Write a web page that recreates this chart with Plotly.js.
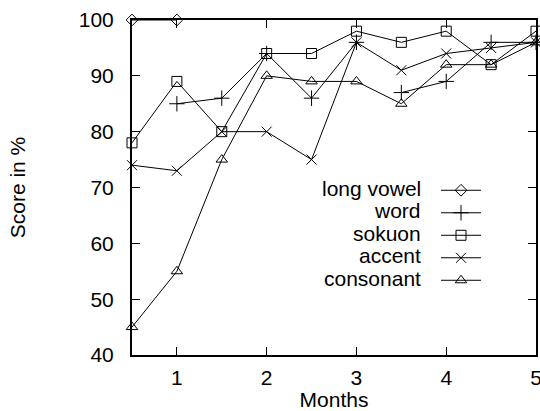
<!DOCTYPE html>
<html>
<head>
<meta charset="utf-8">
<script src="https://cdn.plot.ly/plotly-3.0.1.min.js"></script>
<style>html,body{margin:0;padding:0;background:#fff;}#chart{width:540px;height:411px;}</style>
</head>
<body>
<div id="chart"></div>
<script>
// ---- data ----
var seriesNames = ["long vowel", "word", "sokuon", "accent", "consonant"];
var months = [0.5, 1, 1.5, 2, 2.5, 3, 3.5, 4, 4.5, 5];
var longVowelMonths = [0.5, 1];
var longVowel = [100, 100];
// the word curve has a break between month 3 and 3.5 (null = gap)
var wordMonths = [1, 1.5, 2, 2.5, 3, null, 3.5, 4, 4.5, 5];
var word = [85, 86, 94, 86, 96, null, 87, 89, 96, 96];
var sokuon = [78, 89, 80, 94, 94, 98, 96, 98, 92, 98];
var accent = [74, 73, 80, 80, 75, 96, 91, 94, 95, 96];
var consonant = [45, 55, 75, 90, 89, 89, 85, 92, 92, 96];
var xTicks = [1, 2, 3, 4, 5];
var yTicks = [40, 50, 60, 70, 80, 90, 100];

var FONT = "Liberation Sans, Arial, Helvetica, sans-serif";
function tr(name, x, y, symbol, size) {
  return {
    type: "scatter", mode: "lines+markers", name: name, x: x, y: y,
    legendgroup: name,
    line: {color: "#000", width: 1},
    marker: {symbol: symbol, size: size, color: "#000", line: {color: "#000", width: 1}},
    cliponaxis: false
  };
}
var data = [
  tr(seriesNames[0], longVowelMonths, longVowel, "diamond-open", 9),
  tr(seriesNames[1], wordMonths, word, "cross-thin-open", 11),
  tr(seriesNames[2], months, sokuon, "square-open", 10),
  tr(seriesNames[3], months, accent, "x-thin-open", 10),
  tr(seriesNames[4], months, consonant, "triangle-up-open", 10)
];

// legend labels are drawn as annotations so they sit left of the symbols
var rowY = [0.497, 0.430, 0.363, 0.296, 0.229];
var annotations = seriesNames.map(function (n, i) {
  return {xref: "paper", yref: "paper", x: 0.7196, y: rowY[i], xanchor: "right", yanchor: "middle",
    text: n, showarrow: false, font: {family: FONT, size: 21, color: "#000"}};
});

var axisCommon = {
  showgrid: false, zeroline: false, showline: true, linecolor: "#000", linewidth: 2,
  mirror: "allticks", ticks: "inside", ticklen: 8, tickwidth: 1, tickcolor: "#000",
  tickfont: {family: FONT, size: 21, color: "#000"}, automargin: false
};
var layout = {
  width: 540, height: 411,
  margin: {l: 132, r: 4, t: 19.5, b: 56, pad: 0, autoexpand: false},
  paper_bgcolor: "#fff", plot_bgcolor: "#fff",
  font: {family: FONT, size: 21, color: "#000"},
  xaxis: Object.assign({}, axisCommon, {
    range: [0.5, 5], tickvals: xTicks, ticktext: xTicks.map(String),
    ticklabelstandoff: 3, ticklabeloverflow: "allow",
    title: {text: "Months", font: {family: FONT, size: 21, color: "#000"}, standoff: 0}
  }),
  yaxis: Object.assign({}, axisCommon, {
    range: [40, 100], tickvals: yTicks, ticktext: yTicks.map(String),
    ticklabelstandoff: 12,
    title: {text: "Score in %", font: {family: FONT, size: 21, color: "#000"}, standoff: 47}
  }),
  showlegend: true,
  legend: {x: 0.7525, y: 0.535, xanchor: "left", yanchor: "top", bgcolor: "rgba(0,0,0,0)",
    borderwidth: 0, itemwidth: 40, tracegroupgap: 3.5,
    font: {family: FONT, size: 8, color: "rgba(0,0,0,0)"},
    itemclick: false, itemdoubleclick: false},
  annotations: annotations
};
Plotly.newPlot("chart", data, layout, {staticPlot: true, displayModeBar: false});
</script>
</body>
</html>
